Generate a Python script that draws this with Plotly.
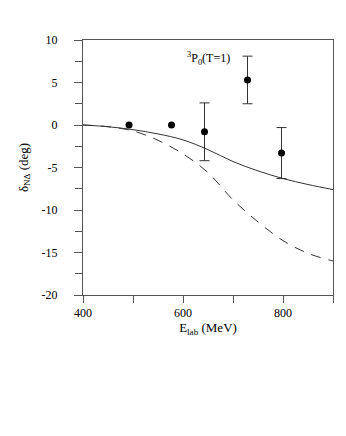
import plotly.graph_objects as go

# theory curves
energy = [400, 450, 500, 550, 600, 650, 700, 750, 800, 850, 900]
delta_solid = [0.0, -0.2, -0.55, -1.05, -1.75, -2.9, -4.3, -5.4, -6.3, -7.0, -7.6]
delta_dashed = [0.0, -0.2, -0.7, -1.8, -3.4, -5.6, -8.8, -11.4, -13.6, -15.1, -16.0]

# data points without error bars
e_pts = [492, 577]
d_pts = [0.0, 0.0]
# data points with error bars
e_data = [643, 729, 797]
d_data = [-0.8, 5.3, -3.3]
d_err = [3.4, 2.8, 3.0]

y_ticks = [10, 5, 0, -5, -10, -15, -20]
y_labels = ["10", "5", "0", "-5", "-10", "-15", "-20"]

font = "Liberation Serif, Times New Roman, serif"

fig = go.Figure()
fig.add_trace(go.Scatter(x=energy, y=delta_solid, mode="lines", line=dict(color="#333", width=1, shape="spline")))
fig.add_trace(go.Scatter(x=energy, y=delta_dashed, mode="lines",
                         line=dict(color="#333", width=1, dash="10px,8px", shape="spline")))
fig.add_trace(go.Scatter(x=e_pts, y=d_pts, mode="markers", marker=dict(color="black", size=7)))
fig.add_trace(go.Scatter(x=e_data, y=d_data, mode="markers",
                         marker=dict(color="black", size=7),
                         error_y=dict(type="data", array=d_err, visible=True, color="#333", thickness=1, width=5)))

fig.add_annotation(x=0.5, y=0.97, xref="paper", yref="paper", xanchor="center", yanchor="top",
                   text="<sup>3</sup>P<sub>0</sub>(T=1)", showarrow=False,
                   font=dict(family=font, size=12, color="black"))

fig.update_xaxes(range=[400, 900], tickvals=[400, 500, 600, 700, 800, 900],
                 ticktext=["400", "", "600", "", "800", ""],
                 ticks="outside", ticklen=7, tickcolor="#555", showline=True, linecolor="#555",
                 mirror=True, showgrid=False, zeroline=False, ticklabelstandoff=0,
                 title=dict(text="E<sub>lab</sub> (MeV)", font=dict(family=font, size=13), standoff=0),
                 tickfont=dict(family=font, size=12))
fig.update_yaxes(range=[-20, 10], tickvals=y_ticks, ticktext=y_labels, ticks="outside", ticklen=8, tickcolor="#555",
                 minor=dict(dtick=2.5, ticks="outside", ticklen=7, tickcolor="#555"),
                 showline=True, linecolor="#555", mirror=True, showgrid=False, zeroline=False,
                 ticklabelstandoff=14,
                 title=dict(text="δ<sub>NΔ</sub> (deg)", font=dict(family=font, size=13), standoff=10),
                 tickfont=dict(family=font, size=12))
fig.update_layout(width=346, height=436, showlegend=False,
                  plot_bgcolor="white", paper_bgcolor="white",
                  margin=dict(l=75, r=21, t=32, b=149),
                  font=dict(family=font, color="black"))
fig.write_html("out.html")
